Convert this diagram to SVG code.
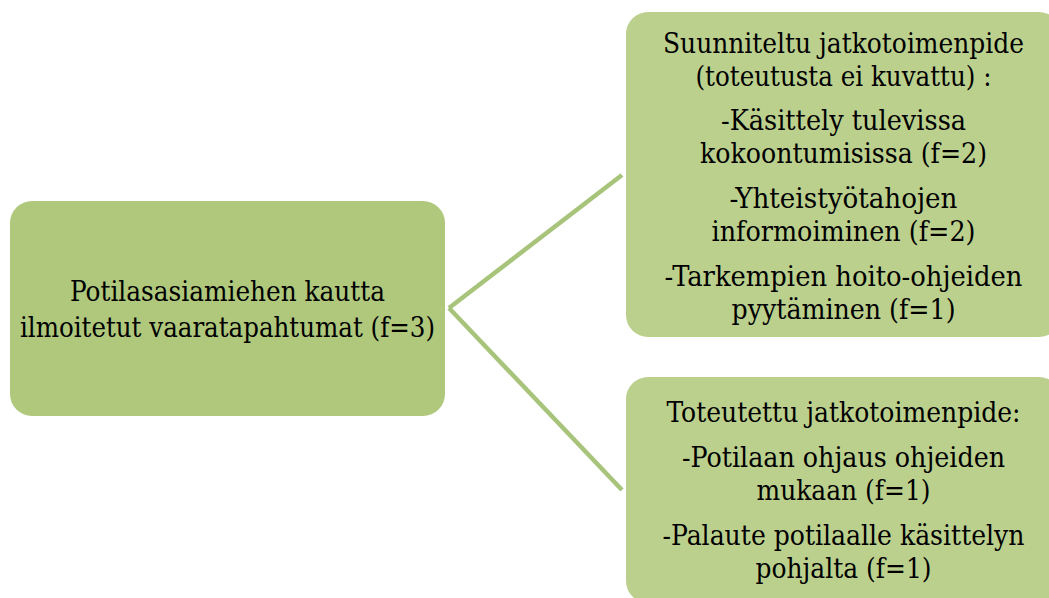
<svg xmlns="http://www.w3.org/2000/svg" width="1049" height="598" viewBox="0 0 1049 598">
  <style>
    .box-main { fill: #AFC87C; }
    .box-sub { fill: #BCD08E; }
    .link { stroke: #A8C47B; stroke-width: 4.5; fill: none; }
    .lbl { font-family: "DejaVu Serif Condensed", "DejaVu Serif", serif; font-size: 28px; fill: #000; text-anchor: middle; }
  </style>
  <rect width="1049" height="598" fill="#FFFFFF"/>

  <!-- connectors from the root node to both branches -->
  <g id="connectors">
    <line class="link" x1="449" y1="308" x2="622" y2="175"/>
    <line class="link" x1="449" y1="308" x2="622" y2="490"/>
  </g>

  <!-- root node -->
  <g id="node-root">
    <rect class="box-main" x="10" y="201" width="435" height="215" rx="22" ry="22"/>
    <text class="lbl" x="227.5" y="301" textLength="315" lengthAdjust="spacingAndGlyphs">Potilasasiamiehen kautta</text>
    <text class="lbl" x="227.5" y="337" textLength="415" lengthAdjust="spacingAndGlyphs">ilmoitetut vaaratapahtumat (f=3)</text>
  </g>

  <!-- planned follow-up actions -->
  <g id="node-planned">
    <rect class="box-sub" x="626" y="12" width="435" height="325" rx="22" ry="22"/>
    <text class="lbl" x="843.5" y="53" textLength="361" lengthAdjust="spacingAndGlyphs">Suunniteltu jatkotoimenpide</text>
    <text class="lbl" x="843.5" y="86" textLength="296" lengthAdjust="spacingAndGlyphs">(toteutusta ei kuvattu) :</text>
    <text class="lbl" x="843.5" y="130" textLength="245" lengthAdjust="spacingAndGlyphs">-Käsittely tulevissa</text>
    <text class="lbl" x="843.5" y="163" textLength="287" lengthAdjust="spacingAndGlyphs">kokoontumisissa (f=2)</text>
    <text class="lbl" x="843.5" y="208" textLength="228" lengthAdjust="spacingAndGlyphs">-Yhteistyötahojen</text>
    <text class="lbl" x="843.5" y="241" textLength="264" lengthAdjust="spacingAndGlyphs">informoiminen (f=2)</text>
    <text class="lbl" x="843.5" y="286" textLength="358" lengthAdjust="spacingAndGlyphs">-Tarkempien hoito-ohjeiden</text>
    <text class="lbl" x="843.5" y="319" textLength="224" lengthAdjust="spacingAndGlyphs">pyytäminen (f=1)</text>
  </g>

  <!-- completed follow-up actions -->
  <g id="node-done">
    <rect class="box-sub" x="626" y="377" width="435" height="226" rx="22" ry="22"/>
    <text class="lbl" x="843.5" y="422" textLength="354" lengthAdjust="spacingAndGlyphs">Toteutettu jatkotoimenpide:</text>
    <text class="lbl" x="843.5" y="467" textLength="323" lengthAdjust="spacingAndGlyphs">-Potilaan ohjaus ohjeiden</text>
    <text class="lbl" x="843.5" y="500" textLength="174" lengthAdjust="spacingAndGlyphs">mukaan (f=1)</text>
    <text class="lbl" x="843.5" y="545" textLength="362" lengthAdjust="spacingAndGlyphs">-Palaute potilaalle käsittelyn</text>
    <text class="lbl" x="843.5" y="578" textLength="176" lengthAdjust="spacingAndGlyphs">pohjalta (f=1)</text>
  </g>
</svg>
